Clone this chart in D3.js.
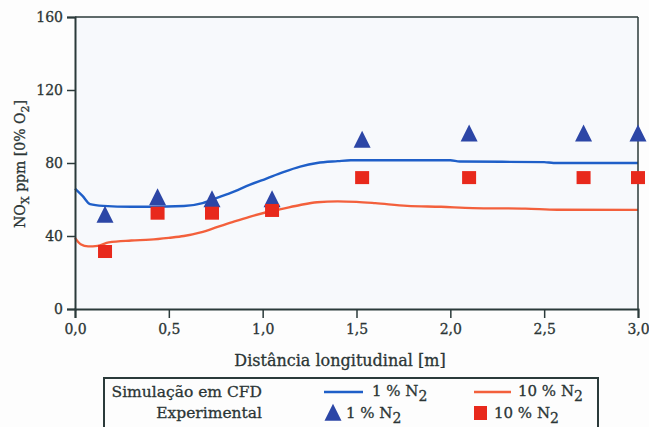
<!DOCTYPE html>
<html><head><meta charset="utf-8">
<script src="https://cdn.jsdelivr.net/npm/d3@7"></script>
<style>
html,body{margin:0;padding:0;background:#fdfdfd;}
svg{display:block;}
text{font-family:"DejaVu Serif",serif;fill:#2b3535;stroke:#2b3535;stroke-width:0.3px;}
</style></head><body>
<svg id="c" width="649" height="427"></svg>
<script>
// Data
const xTicks = [0, 0.5, 1.0, 1.5, 2.0, 2.5, 3.0];
const yTicks = [0, 40, 80, 120, 160];

const expX = [0.16, 0.44, 0.73, 1.05, 1.53, 2.10, 2.71, 3.0];
const exp1N2 = [51.5, 61, 60, 60, 92.5, 96, 96, 96];
const exp10N2 = [31.5, 52.5, 52.5, 54, 72, 72, 72, 72];

const cfd1X = [0.00, 0.04, 0.08, 0.15, 0.30, 0.40, 0.58, 0.68, 0.76, 0.85, 0.93, 1.02, 1.11, 1.20, 1.29, 1.40, 1.47, 1.60, 1.80, 2.00, 2.05, 2.50, 2.55, 3.00];
const cfd1Y = [66, 62, 57.5, 56.5, 56, 56, 56.4, 58, 61, 64.5, 68, 71.5, 75, 78, 80, 81, 81.5, 81.5, 81.5, 81.5, 80.8, 80.5, 80, 80];

const cfd10X = [0.00, 0.03, 0.07, 0.12, 0.18, 0.30, 0.40, 0.50, 0.58, 0.67, 0.76, 0.85, 0.93, 1.02, 1.11, 1.20, 1.29, 1.40, 1.50, 1.60, 1.77, 1.95, 2.12, 2.40, 2.57, 3.00];
const cfd10Y = [39, 35.5, 34.3, 34.6, 36.5, 37.5, 38, 39, 40, 42, 45, 48, 50.5, 53, 55, 57, 58.5, 59, 58.7, 58, 56.5, 56, 55.3, 55, 54.4, 54.3];

const fmt = d => d.toFixed(1).replace('.', ',');

const svg = d3.select('#c');
const L = 75, R = 638, T = 17, B = 309;
const x = d3.scaleLinear().domain([0, 3]).range([L, R]);
const y = d3.scaleLinear().domain([0, 160]).range([B, T]);

const blue = '#1f5fc8', red = '#f3603c', triC = '#2c46a6', sqC = '#e8291c', axC = '#2b3a3a';

svg.append('rect').attr('x', L).attr('y', T).attr('width', R - L).attr('height', B - T).attr('fill', '#f7f9fc');

// lines
const line = d3.line().x(d => x(d[0])).y(d => y(d[1])).curve(d3.curveMonotoneX);
svg.append('path').datum(cfd10X.map((d, i) => [d, cfd10Y[i]])).attr('d', line)
  .attr('fill', 'none').attr('stroke', red).attr('stroke-width', 2.4);
svg.append('path').datum(cfd1X.map((d, i) => [d, cfd1Y[i]])).attr('d', line)
  .attr('fill', 'none').attr('stroke', blue).attr('stroke-width', 2.4);

// frame top/right
svg.append('line').attr('x1', L).attr('x2', R).attr('y1', T).attr('y2', T).attr('stroke', axC).attr('stroke-width', 1.5);
svg.append('line').attr('x1', R).attr('x2', R).attr('y1', T).attr('y2', B).attr('stroke', axC).attr('stroke-width', 1.5);

// axes
const xAxis = d3.axisBottom(x).tickValues(xTicks).tickFormat(fmt).tickSize(9).tickPadding(6);
const gx = svg.append('g').attr('transform', `translate(0,${B})`).call(xAxis);
gx.select('.domain').attr('stroke', axC).attr('stroke-width', 2);
gx.selectAll('.tick line').attr('stroke', axC).attr('stroke-width', 1.5);
gx.selectAll('.tick text').attr('font-size', 14).attr('fill', '#2b3535').attr('font-family', '"DejaVu Serif",serif');

const yAxis = d3.axisLeft(y).tickValues(yTicks).tickSize(8).tickPadding(4);
const gy = svg.append('g').attr('transform', `translate(${L},0)`).call(yAxis);
gy.select('.domain').attr('stroke', axC).attr('stroke-width', 2);
gy.selectAll('.tick line').attr('stroke', axC).attr('stroke-width', 1.5);
gy.selectAll('.tick text').attr('font-size', 14).attr('fill', '#2b3535').attr('font-family', '"DejaVu Serif",serif');

// markers
const triPath = (s) => `M0,${-s*0.55}L${s/2},${s*0.45}L${-s/2},${s*0.45}Z`;
svg.append('g').selectAll('path').data(expX.map((d, i) => [d, exp1N2[i]])).join('path')
  .attr('transform', d => `translate(${x(d[0])},${y(d[1])})`)
  .attr('d', triPath(17)).attr('fill', triC);
svg.append('g').selectAll('rect').data(expX.map((d, i) => [d, exp10N2[i]])).join('rect')
  .attr('x', d => x(d[0]) - 7).attr('y', d => y(d[1]) - 6.5).attr('width', 14).attr('height', 13).attr('fill', sqC);

// axis titles
svg.append('text').attr('x', 340).attr('y', 366).attr('text-anchor', 'middle').attr('font-size', 16)
  .text('Distância longitudinal [m]');
const yl = svg.append('text').attr('transform', 'translate(25,164) rotate(-90)').attr('text-anchor', 'middle').attr('font-size', 14);
yl.append('tspan').text('NO');
yl.append('tspan').attr('dy', 4).attr('font-size', 11).text('X');
yl.append('tspan').attr('dy', -4).text(' ppm [0% O');
yl.append('tspan').attr('dy', 4).attr('font-size', 11).text('2');
yl.append('tspan').attr('dy', -4).text(']');

// legend
svg.append('rect').attr('x', 104).attr('y', 378).attr('width', 494).attr('height', 70)
  .attr('fill', '#fdfdfd').attr('stroke', axC).attr('stroke-width', 2);
svg.append('text').attr('x', 262).attr('y', 397).attr('text-anchor', 'end').attr('font-size', 15.5).text('Simulação em CFD');
svg.append('text').attr('x', 262).attr('y', 418).attr('text-anchor', 'end').attr('font-size', 15.5).text('Experimental');
function lab(xp, yp, t) {
  const g = svg.append('text').attr('x', xp).attr('y', yp).attr('font-size', 15);
  g.append('tspan').text(t + ' % N');
  g.append('tspan').attr('dy', 5).attr('font-size', 14).text('2');
}
svg.append('line').attr('x1', 324).attr('x2', 363).attr('y1', 392).attr('y2', 392).attr('stroke', blue).attr('stroke-width', 2.4);
svg.append('line').attr('x1', 474).attr('x2', 511).attr('y1', 392).attr('y2', 392).attr('stroke', red).attr('stroke-width', 2.4);
lab(372, 396, '1');
lab(518, 396, '10');
svg.append('path').attr('transform', 'translate(333,413)').attr('d', triPath(17)).attr('fill', triC);
svg.append('rect').attr('x', 474).attr('y', 406).attr('width', 13).attr('height', 14).attr('fill', sqC);
lab(346, 418, '1');
lab(494, 418, '10');
</script></body></html>
